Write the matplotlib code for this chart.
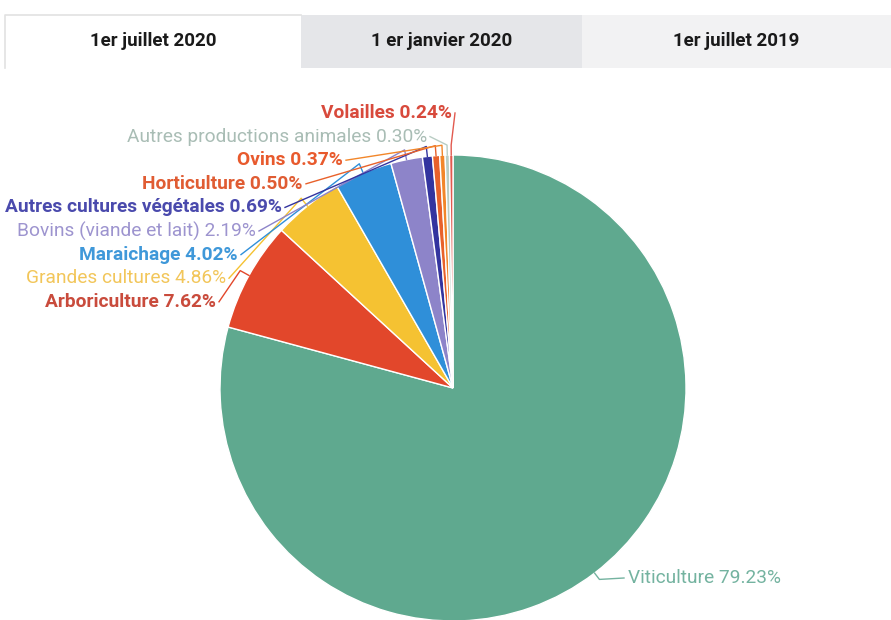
import matplotlib
matplotlib.use("Agg")
import matplotlib.pyplot as plt
from matplotlib.patches import Rectangle
import numpy as np

# ---- data ----
categories = ["Viticulture", "Arboriculture", "Grandes cultures", "Maraichage",
              "Bovins (viande et lait)", "Autres cultures végétales", "Horticulture",
              "Ovins", "Autres productions animales", "Volailles"]
values = [79.23, 7.62, 4.86, 4.02, 2.19, 0.69, 0.50, 0.37, 0.30, 0.24]
tab_labels = ["1er juillet 2020", "1 er janvier 2020", "1er juillet 2019"]

# ---- styles ----
slice_colors = ["#5fa98f", "#e2472b", "#f5c232", "#2f8fd9", "#8d84c9",
                "#33349f", "#e8612b", "#f2862a", "#b9cdc4", "#e25a4f"]
label_colors = ["#74b3a0", "#c94b3c", "#f2c65a", "#3f98d9", "#9d94cf",
                "#4a4aad", "#e05c33", "#e85a2d", "#a9bdb5", "#d84a3c"]
label_bold = [False, True, False, True, False, True, True, True, False, True]
FS = 13.8

W, H = 891, 620
fig = plt.figure(figsize=(W / 100, H / 100), dpi=100)
ax = fig.add_axes([0, 0, 1, 1])

# ---- pie ----
cx, cy, r = 453, H - 388, 233
wedges, _ = ax.pie(values, colors=slice_colors, startangle=90, counterclock=False,
                   center=(cx, cy), radius=r, frame=True,
                   wedgeprops=dict(edgecolor="white", linewidth=1.0))
ax.set_xlim(0, W)
ax.set_ylim(0, H)
ax.set_aspect("equal")
ax.axis("off")

# ---- tabs ----
tab_edges = [5, 301, 582, 891]
tab_fill = ["#ffffff", "#e5e6e9", "#f2f2f3"]
tab_top, tab_bot = H - 15, H - 68
for i, lab in enumerate(tab_labels):
    x0, x1 = tab_edges[i], tab_edges[i + 1]
    ax.add_patch(Rectangle((x0, tab_bot), x1 - x0, tab_top - tab_bot,
                           facecolor=tab_fill[i], edgecolor="none", zorder=1))
    ax.text((x0 + x1) / 2, (tab_top + tab_bot) / 2 + 1, lab, ha="center", va="center",
            fontsize=13.5, fontweight="bold", family="Roboto", color="#1a1a1a", zorder=2)
ax.plot([tab_edges[0], tab_edges[0], tab_edges[1]], [tab_bot, tab_top, tab_top],
        color="#e2e2e2", lw=1.2, zorder=2)

# ---- labels with connectors ----
fracs = np.array(values) / np.sum(values)
starts = np.concatenate([[0], np.cumsum(fracs)[:-1]])
mids = 90 - 360 * (starts + fracs / 2)

# layout: label anchor (x end for left side labels, y in image px)
left_y_top, left_step = 113, 23.6
left_x_end = {9: 452, 8: 427, 7: 343, 6: 303, 5: 282, 4: 256, 3: 238, 2: 226, 1: 216}

for i, name in enumerate(categories):
    th = np.deg2rad(mids[i])
    ex, ey = cx + r * np.cos(th), cy + r * np.sin(th)
    txt = f"{name} {values[i]:.2f}%"
    weight = "bold" if label_bold[i] else "normal"
    if i == 0:
        lx, ly = 628, H - 578
        ax.text(lx, ly, txt, ha="left", va="center", fontsize=FS, family="Roboto",
                fontweight=weight, color=label_colors[i])
        ox, oy = cx + (r + 8) * np.cos(th), cy + (r + 8) * np.sin(th)
        ax.plot([ex, ox, lx - 4], [ey, oy, ly], color=label_colors[i], lw=1)
    else:
        k = 9 - i
        ly = H - (left_y_top + k * left_step)
        lx = left_x_end[i]
        ax.text(lx, ly, txt, ha="right", va="center", fontsize=FS, family="Roboto",
                fontweight=weight, color=label_colors[i])
        ox, oy = cx + (r + 10) * np.cos(th), cy + (r + 10) * np.sin(th)
        ax.plot([lx + 3, ox, ex], [ly, oy, ey], color=slice_colors[i], lw=1)

fig.savefig("out.png", dpi=100)
